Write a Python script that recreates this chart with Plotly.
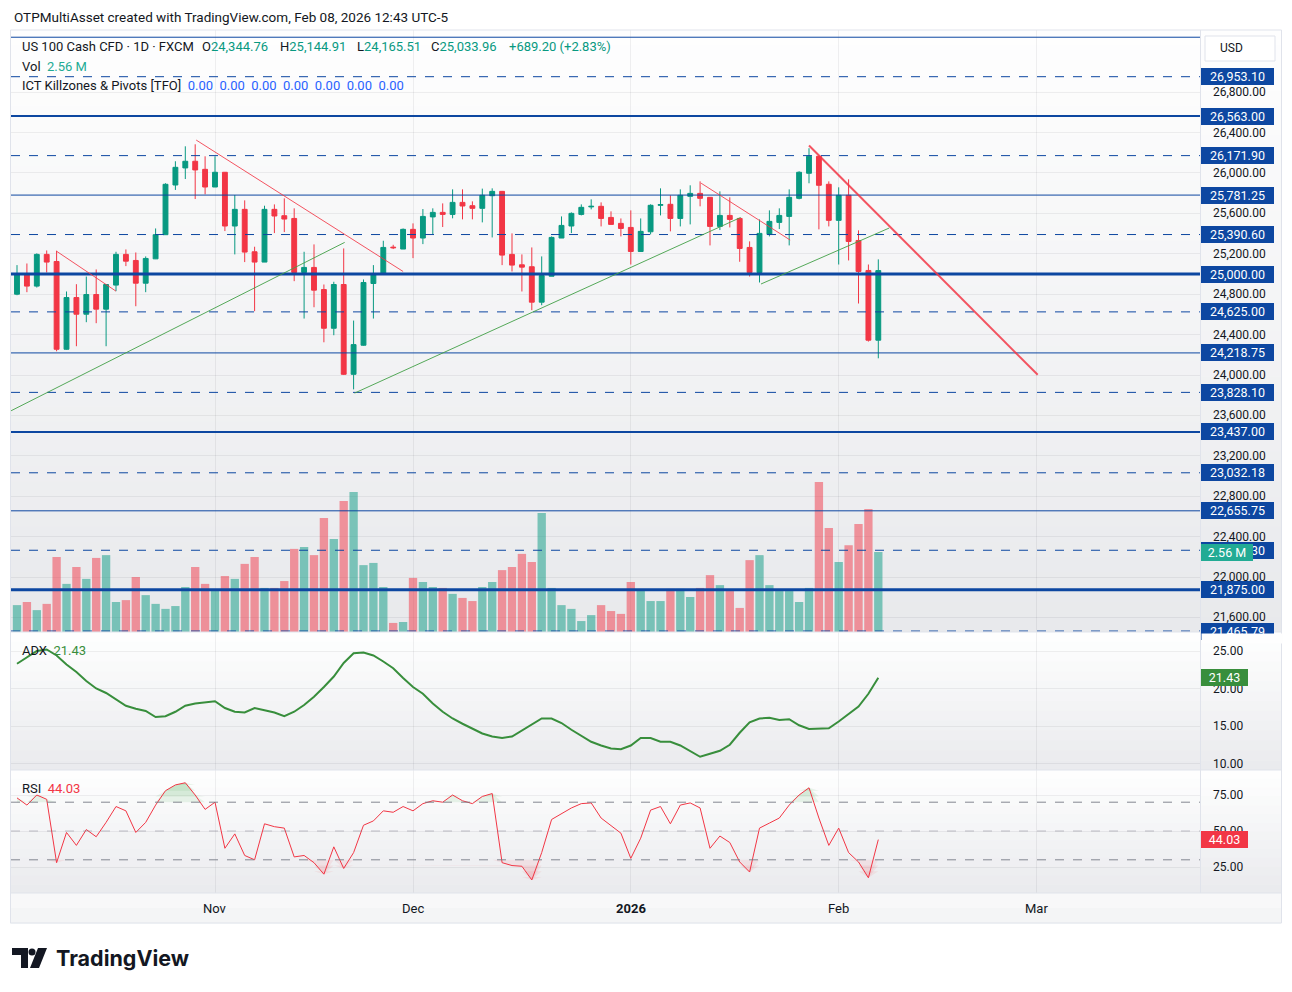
import plotly.graph_objects as go
import pandas as pd

W, H = 1292, 992
def px(x): return x / W
def py(y): return 1 - y / H

# ---------------- data ----------------
opens = [24800, 25005, 24880, 25194, 25124, 24255, 24767, 24602, 24797, 24652,
         24890, 25194, 25134, 24909, 25150, 25389, 25881, 26050, 26116, 26036,
         25861, 26007, 25475, 25640, 25220, 25118, 25640, 25577, 25550, 25015,
         25065, 24846, 24463, 24896, 24007, 24295, 24906, 25002, 25266, 25247,
         25442, 25356, 25565, 25610, 25590, 25709, 25676, 25650, 25775, 25818,
         25194, 25091, 25072, 24721, 24978, 25356, 25475, 25590, 25664, 25670,
         25560, 25501, 25461, 25223, 25418, 25680, 25690, 25550, 25769, 25798,
         25759, 25471, 25580, 25550, 25263, 25015, 25392, 25511, 25570, 25749,
         25997, 26165, 25888, 25531, 25779, 25332, 25035, 24344.76]
highs = [25088, 25104, 25204, 25233, 25230, 24827, 24899, 24975, 25045, 24900,
         25220, 25243, 25213, 25174, 25451, 25898, 26116, 26264, 26284, 26165,
         26165, 26010, 25782, 25729, 25270, 25676, 25689, 25749, 25650, 25220,
         25293, 24896, 24923, 25253, 24539, 24946, 25088, 25329, 25289, 25451,
         25501, 25643, 25650, 25699, 25838, 25838, 25719, 25845, 25848, 25822,
         25402, 25194, 25263, 25174, 25372, 25570, 25610, 25689, 25739, 25709,
         25620, 25550, 25630, 25550, 25690, 25848, 25779, 25838, 25878, 25917,
         25760, 25818, 25759, 25550, 25323, 25540, 25630, 25650, 25838, 26017,
         26245, 26170, 25917, 25858, 25937, 25432, 25094, 25144.91]
lows = [24790, 24820, 24866, 25015, 24235, 24250, 24285, 24523, 24513, 24285,
        24830, 25078, 24681, 24820, 25148, 25389, 25832, 25940, 25742, 25789,
        25861, 25425, 25194, 25118, 24632, 25118, 25405, 25415, 24929, 24559,
        24671, 24324, 24394, 24000, 23858, 24290, 24559, 25000, 25247, 25247,
        25157, 25296, 25395, 25465, 25551, 25541, 25541, 25511, 25362, 25088,
        25025, 24827, 24642, 24691, 24978, 25356, 25405, 25580, 25640, 25471,
        25491, 25372, 25094, 25223, 25392, 25580, 25422, 25471, 25491, 25670,
        25283, 25435, 25461, 25121, 24975, 24916, 25372, 25445, 25283, 25739,
        25898, 25442, 25471, 25094, 25134, 24708, 24331, 24165.51]
closes = [25005, 24880, 25194, 25118, 24255, 24767, 24602, 24797, 24652, 24896,
          25194, 25127, 24909, 25154, 25389, 25888, 26056, 26116, 26030, 25861,
          26007, 25475, 25640, 25217, 25118, 25640, 25574, 25544, 25015, 25065,
          24840, 24463, 24896, 24007, 24301, 24916, 24999, 25263, 25260, 25442,
          25356, 25570, 25610, 25590, 25709, 25673, 25650, 25779, 25818, 25187,
          25088, 25068, 24721, 24985, 25362, 25481, 25600, 25660, 25670, 25550,
          25491, 25451, 25223, 25422, 25680, 25687, 25550, 25779, 25798, 25749,
          25471, 25580, 25540, 25253, 25015, 25402, 25521, 25580, 25759, 26007,
          26165, 25878, 25531, 25779, 25322, 25025, 24344.76, 25033.96]
volumes_m = [0.86, 0.96, 0.70, 0.90, 2.40, 1.54, 2.08, 1.70, 2.37, 2.46,
             0.96, 1.02, 1.76, 1.18, 0.90, 0.74, 0.83, 1.44, 2.08, 1.54,
             1.34, 1.79, 1.70, 2.18, 2.40, 1.41, 1.41, 1.63, 2.66, 2.72,
             2.46, 3.65, 2.98, 4.19, 4.48, 2.14, 2.21, 1.44, 0.29, 0.32,
             1.73, 1.60, 1.44, 1.41, 1.22, 1.09, 0.99, 1.44, 1.60, 1.98,
             2.08, 2.50, 2.24, 3.81, 1.41, 0.86, 0.74, 0.35, 0.54, 0.86,
             0.67, 0.58, 1.60, 1.34, 0.99, 0.99, 1.38, 1.38, 1.12, 1.41,
             1.82, 1.50, 1.31, 0.77, 2.30, 2.46, 1.50, 1.31, 1.31, 0.96,
             1.41, 4.80, 3.33, 2.24, 2.78, 3.46, 3.94, 2.56]
adx = [23.3, 24.2, 25.0, 25.2, 24.4, 23.2, 22.2, 21.0, 20.0, 19.4,
       18.6, 17.7, 17.3, 17.0, 16.2, 16.3, 16.9, 17.7, 18.0, 18.2,
       18.3, 17.4, 16.9, 16.8, 17.4, 17.1, 16.8, 16.3, 16.9, 17.8,
       18.9, 20.2, 21.6, 23.4, 24.7, 24.8, 24.4, 23.6, 22.7, 21.4,
       20.2, 19.3, 18.0, 16.9, 16.0, 15.3, 14.6, 14.0, 13.6, 13.4,
       13.6, 14.4, 15.2, 16.0, 16.0, 15.4, 14.5, 13.7, 12.9, 12.4,
       12.0, 11.9, 12.4, 13.4, 13.4, 12.9, 12.9, 12.4, 11.6, 10.9,
       11.3, 11.7, 12.5, 14.1, 15.5, 16.0, 16.1, 15.8, 15.9, 15.1,
       14.6, 14.6, 14.7, 15.6, 16.6, 17.6, 19.3, 21.43]
rsi = [73, 68, 75, 72, 28, 49, 40, 51, 46, 56,
       67, 64, 49, 56, 68, 78, 82, 83.5, 75, 65,
       70, 38, 48, 33, 30, 55, 53, 52, 32, 33,
       28, 20, 39, 24, 35, 54, 57, 64, 63, 67,
       64, 69, 71, 70, 75, 71, 69, 74, 76, 28,
       26, 25.5, 16, 35, 58, 62, 66, 69, 69.5, 59,
       54, 48.5, 31, 45, 64.5, 67, 55, 68, 69.5, 66,
       38, 46.5, 42, 28.5, 21.5, 52, 55.5, 59, 68, 75,
       80, 59, 40, 52, 35, 28.5, 17.5, 44.03]

pivot_levels = [27343.75, 26953.10, 26563.00, 26171.90, 25781.25, 25390.60, 25000.00, 24625.00,
                24218.75, 23828.10, 23437.00, 23032.18, 22655.75, 22265.30, 21875.00, 21465.79]
pivot_dash = ['solid', 'dash', 'solid', 'dash', 'solid', 'dash', 'solid', 'dash',
              'solid', 'dash', 'solid', 'dash', 'solid', 'dash', 'solid', 'dash']
pivot_width = [1, 1, 2, 1, 1, 1, 3, 1, 1, 1, 2, 1, 1, 1, 3, 1]
pivot_labelled = [False] + [True] * 15

# trend-line drawings: ((bar index, price), (bar index, price))
red_lines = [((4, 25225), (10, 24830)), ((18.1, 26326), (39, 25025)),
             ((69.1, 25899), (78.1, 25336)), ((80, 26272), (103.1, 24002))]
red_widths = [1, 1, 1, 2]
green_lines = [((-0.6, 23646), (33.1, 25313)), ((34.1, 23821), (73.1, 25560)),
               ((75.15, 24901), (88.1, 25455))]

price_ticks = [21600 + 400 * k for k in range(14)]
adx_ticks = [10, 15, 20, 25]
rsi_ticks = [25, 50, 75]
rsi_levels = [70, 50, 30]
rsi_ob_steps = [70, 74, 78, 82]     # gradient fill layers above 70
rsi_os_steps = [30, 26, 22, 18]     # gradient fill layers below 30

# trading days (Dec 25, Jan 1 closed), extended into the future for the time scale
all_days = [d for d in pd.bdate_range('2025-10-06', '2026-03-31')
            if d.strftime('%Y-%m-%d') not in ('2025-12-25', '2026-01-01')]
month_names = {11: 'Nov', 12: 'Dec', 1: '<b>2026</b>', 2: 'Feb', 3: 'Mar'}
month_idx, month_txt = [], []
for i, d in enumerate(all_days):
    if i > 0 and d.month != all_days[i - 1].month:
        month_idx.append(i)
        month_txt.append(month_names[d.month])

n = len(closes)
idx = list(range(n))

# ---------------- pixel geometry ----------------
BAR0_X, BAR_DX = 17.0, 9.9
PLOT_L, PLOT_R = 11, 1200
MAIN_T, MAIN_B = 30, 632
ADX_B, RSI_B, TIME_B = 770, 893, 923
PX_PER_PT = 0.10102           # price scale
Y25K = 274                    # pixel row of 25,000

def price_at(y):
    return 25000 + (Y25K - y) / PX_PER_PT

x_rng = [(PLOT_L - BAR0_X) / BAR_DX, (PLOT_R - BAR0_X) / BAR_DX]
y_rng = [price_at(MAIN_B), price_at(MAIN_T)]
VOL_PX_PER_M = 31.25
v_rng = [0, (MAIN_B - MAIN_T) / VOL_PX_PER_M]
ADX_PX = 7.5
adx_rng = [25 - (ADX_B - 651) / ADX_PX, 25 + (651 - MAIN_B) / ADX_PX]
RSI_PX = 1.44
rsi_rng = [75 - (RSI_B - 795) / RSI_PX, 75 + (795 - ADX_B) / RSI_PX]

UP, DN = '#089981', '#F23645'
BLUE = '#0D47A1'
TXT = '#131722'
GRID = 'rgba(42,46,57,0.07)'
FONT = 'Roboto'

fig = go.Figure()

vol_colors = ['rgba(8,153,129,0.5)' if c >= o else 'rgba(242,54,69,0.5)' for o, c in zip(opens, closes)]
fig.add_trace(go.Bar(x=idx, y=volumes_m, yaxis='y2', marker=dict(color=vol_colors, line=dict(width=0)),
                     width=0.84, hoverinfo='skip', showlegend=False))
fig.add_trace(go.Candlestick(x=idx, open=opens, high=highs, low=lows, close=closes,
                             increasing=dict(line=dict(color=UP, width=1), fillcolor=UP),
                             decreasing=dict(line=dict(color=DN, width=1), fillcolor=DN),
                             whiskerwidth=0, hoverinfo='skip', showlegend=False))

# ADX
fig.add_trace(go.Scatter(x=idx, y=adx, xaxis='x2', yaxis='y3', mode='lines',
                         line=dict(color='#388E3C', width=2), hoverinfo='skip', showlegend=False))
# RSI gradient fills (layered)
for lv in rsi_ob_steps:
    fig.add_trace(go.Scatter(x=idx, y=[lv] * n, xaxis='x3', yaxis='y4', mode='lines',
                             line=dict(width=0), hoverinfo='skip', showlegend=False))
    fig.add_trace(go.Scatter(x=idx, y=[max(v, lv) for v in rsi], xaxis='x3', yaxis='y4', mode='lines',
                             line=dict(width=0), fill='tonexty', fillcolor='rgba(76,175,80,0.11)',
                             hoverinfo='skip', showlegend=False))
for lv in rsi_os_steps:
    fig.add_trace(go.Scatter(x=idx, y=[lv] * n, xaxis='x3', yaxis='y4', mode='lines',
                             line=dict(width=0), hoverinfo='skip', showlegend=False))
    fig.add_trace(go.Scatter(x=idx, y=[min(v, lv) for v in rsi], xaxis='x3', yaxis='y4', mode='lines',
                             line=dict(width=0), fill='tonexty', fillcolor='rgba(242,54,69,0.08)',
                             hoverinfo='skip', showlegend=False))
fig.add_trace(go.Scatter(x=idx, y=rsi, xaxis='x3', yaxis='y4', mode='lines',
                         line=dict(color=DN, width=1), hoverinfo='skip', showlegend=False))

shapes = []
# background gradients
def gradient(y0, y1, c0, c1, nb):
    for k in range(nb):
        t = k / (nb - 1)
        col = 'rgb(%d,%d,%d)' % tuple(round(c0[j] + (c1[j] - c0[j]) * t) for j in range(3))
        ya = y0 + (y1 - y0) * k / nb
        yb = y0 + (y1 - y0) * (k + 1) / nb
        shapes.append(dict(type='rect', xref='paper', yref='paper', x0=px(10), x1=px(1281),
                           y0=py(yb + 0.6), y1=py(ya), fillcolor=col, line=dict(width=0), layer='below'))

gradient(MAIN_T, MAIN_B, (254, 254, 254), (232, 233, 236), 40)
gradient(MAIN_B, ADX_B, (254, 254, 254), (234, 235, 238), 14)
gradient(ADX_B, RSI_B, (254, 254, 254), (234, 235, 238), 14)
gradient(RSI_B, TIME_B, (248, 248, 249), (244, 245, 246), 2)

# pivot lines
for lv, ds, wd in zip(pivot_levels, pivot_dash, pivot_width):
    shapes.append(dict(type='line', xref='x domain', yref='y', x0=0, x1=1, y0=lv, y1=lv,
                       line=dict(color=BLUE, width=wd, dash=ds)))
# trend lines
for (a, b), wd in zip(red_lines, red_widths):
    shapes.append(dict(type='line', xref='x', yref='y', x0=a[0], y0=a[1], x1=b[0], y1=b[1],
                       line=dict(color='rgba(242,54,69,0.85)', width=wd)))
for a, b in green_lines:
    shapes.append(dict(type='line', xref='x', yref='y', x0=a[0], y0=a[1], x1=b[0], y1=b[1],
                       line=dict(color='rgba(67,160,71,0.9)', width=1)))
# RSI levels
for lv in rsi_levels:
    shapes.append(dict(type='line', xref='x3 domain', yref='y4', x0=0, x1=1, y0=lv, y1=lv,
                       line=dict(color='rgba(120,123,134,0.9)' if lv != 50 else 'rgba(120,123,134,0.45)',
                                 width=1, dash='dash')))
# frame and separators
BORDER = '#E0E3EB'
shapes.append(dict(type='rect', xref='paper', yref='paper', x0=px(10.5), x1=px(1281.5), y0=py(TIME_B),
                   y1=py(MAIN_T), line=dict(color=BORDER, width=1), fillcolor='rgba(0,0,0,0)'))
for yy in (MAIN_B, ADX_B, RSI_B):
    shapes.append(dict(type='line', xref='paper', yref='paper', x0=px(10.5), x1=px(1281.5), y0=py(yy), y1=py(yy),
                       line=dict(color=BORDER, width=1)))
shapes.append(dict(type='line', xref='paper', yref='paper', x0=px(PLOT_R + 0.5), x1=px(PLOT_R + 0.5),
                   y0=py(RSI_B), y1=py(MAIN_T), line=dict(color=BORDER, width=1)))
# USD box
shapes.append(dict(type='rect', xref='paper', yref='paper', x0=px(1205), x1=px(1275), y0=py(61), y1=py(36),
                   fillcolor='#FFFFFF', line=dict(color='#E0E3EB', width=1)))
# logo glyph
def path(points):
    return 'M ' + ' L '.join('%f %f' % (px(x), py(y)) for x, y in points) + ' Z'
shapes.append(dict(type='path', xref='paper', yref='paper', layer='above',
                   path=path([(12, 948), (28, 948), (28, 968), (21, 968), (21, 955), (12, 955)]),
                   fillcolor=TXT, line=dict(width=0)))
shapes.append(dict(type='circle', xref='paper', yref='paper', x0=px(28.5), x1=px(35.5), y0=py(955.5), y1=py(948.5),
                   fillcolor=TXT, line=dict(width=0)))
shapes.append(dict(type='path', xref='paper', yref='paper',
                   path=path([(38, 948), (47, 948), (39, 968), (30, 968)]),
                   fillcolor=TXT, line=dict(width=0)))

ann = []
def text(x, y, s, size=13, color=TXT, anchor='left', **kw):
    ann.append(dict(x=px(x), y=py(y), xref='paper', yref='paper', text=s, showarrow=False,
                    xanchor=anchor, yanchor='middle', font=dict(family=FONT, size=size, color=color), **kw))

text(12, 17, 'OTPMultiAsset created with TradingView.com, Feb 08, 2026 12:43 UTC-5', size=13.5)
g = lambda s: "<span style='color:%s'>%s</span>" % (UP, s)
text(20, 47, 'US 100 Cash CFD · 1D · FXCM')
text(200, 47, 'O' + g(f'{opens[-1]:,.2f}'))
text(278, 47, 'H' + g(f'{highs[-1]:,.2f}'))
text(355, 47, 'L' + g(f'{lows[-1]:,.2f}'))
text(429, 47, 'C' + g(f'{closes[-1]:,.2f}'))
chg = closes[-1] - closes[-2]
text(507, 47, g(f'+{chg:,.2f} (+{chg / closes[-2] * 100:.2f}%)'))
text(20, 66, 'Vol  ' + "<span style='color:#22AB94'>%.2f M</span>" % volumes_m[-1])
text(20, 85, 'ICT Killzones &amp; Pivots [TFO]  ' + "<span style='color:#2962FF'>" + '  '.join(['0.00'] * 7) + '</span>')
text(20, 650, 'ADX  ' + "<span style='color:#388E3C'>%.2f</span>" % adx[-1])
text(20, 788, 'RSI  ' + "<span style='color:%s'>%.2f</span>" % (DN, rsi[-1]))
text(1218, 48, 'USD', size=12)
ann.append(dict(x=px(54), y=py(958), xref='paper', yref='paper', text='<b>TradingView</b>', showarrow=False,
                xanchor='left', yanchor='middle', font=dict(family='Inter', size=21.5, color=TXT)))

# axis tick labels
for v in price_ticks:
    ann.append(dict(x=px(1211), xref='paper', y=v, yref='y', text=f'{v:,.2f}', showarrow=False,
                    xanchor='left', yanchor='middle', font=dict(family=FONT, size=12, color=TXT)))
for v in adx_ticks:
    ann.append(dict(x=px(1211), xref='paper', y=v, yref='y3', text=f'{v:.2f}', showarrow=False,
                    xanchor='left', yanchor='middle', font=dict(family=FONT, size=12, color=TXT)))
for v in rsi_ticks:
    ann.append(dict(x=px(1211), xref='paper', y=v, yref='y4', text=f'{v:.2f}', showarrow=False,
                    xanchor='left', yanchor='middle', font=dict(family=FONT, size=12, color=TXT)))
for i, t in zip(month_idx, month_txt):
    ann.append(dict(x=i, xref='x3', y=py(908), yref='paper', text=t, showarrow=False,
                    xanchor='center', yanchor='middle', font=dict(family=FONT, size=13, color=TXT)))

# value boxes on the scale
def box(y, yref, s, color, w):
    ann.append(dict(x=px(1201), xref='paper', y=y, yref=yref, text=s, showarrow=False, xanchor='left',
                    yanchor='middle', align='center', width=w, height=13, borderpad=1, borderwidth=1,
                    bordercolor=color, bgcolor=color, font=dict(family=FONT, size=12.5, color='#FFFFFF')))

for lv, lab in zip(pivot_levels, pivot_labelled):
    if lab:
        box(lv, 'y', f'{lv:,.2f}', BLUE, 69)
box(volumes_m[-1], 'y2', '%.2f M' % volumes_m[-1], '#22AB94', 48)
box(adx[-1], 'y3', '%.2f' % adx[-1], '#388E3C', 43)
box(rsi[-1], 'y4', '%.2f' % rsi[-1], DN, 43)
# scale area of ADX pane hides the lower half of the last pivot label
ann.append(dict(x=px(1201), xref='paper', y=py(MAIN_B + 0.5), yref='paper', text=' ', showarrow=False,
                xanchor='left', yanchor='top', width=80, height=9, borderpad=0, bgcolor='rgb(254,254,254)'))

axis_common = dict(showline=False, zeroline=False, showticklabels=False, ticks='',
                   gridcolor=GRID, gridwidth=1, fixedrange=True)
fig.update_layout(
    width=W, height=H, margin=dict(l=0, r=0, t=0, b=0),
    paper_bgcolor='#FFFFFF', plot_bgcolor='rgba(0,0,0,0)',
    showlegend=False, shapes=shapes, annotations=ann, hovermode=False,
    xaxis=dict(domain=[px(PLOT_L), px(PLOT_R)], range=x_rng, tickvals=month_idx, anchor='y',
               rangeslider=dict(visible=False), **axis_common),
    yaxis=dict(domain=[py(MAIN_B), py(MAIN_T)], range=y_rng, tickvals=price_ticks, anchor='x', **axis_common),
    yaxis2=dict(overlaying='y', range=v_rng, visible=False, showgrid=False, fixedrange=True),
    xaxis2=dict(domain=[px(PLOT_L), px(PLOT_R)], matches='x', range=x_rng, tickvals=month_idx, anchor='y3',
                **axis_common),
    yaxis3=dict(domain=[py(ADX_B), py(MAIN_B)], range=adx_rng, tickvals=adx_ticks, anchor='x2', **axis_common),
    xaxis3=dict(domain=[px(PLOT_L), px(PLOT_R)], matches='x', range=x_rng, tickvals=month_idx, anchor='y4',
                **axis_common),
    yaxis4=dict(domain=[py(RSI_B), py(ADX_B)], range=rsi_rng, tickvals=rsi_ticks, anchor='x3', **axis_common),
)

fig.write_html('out.html', config={'displayModeBar': False})
